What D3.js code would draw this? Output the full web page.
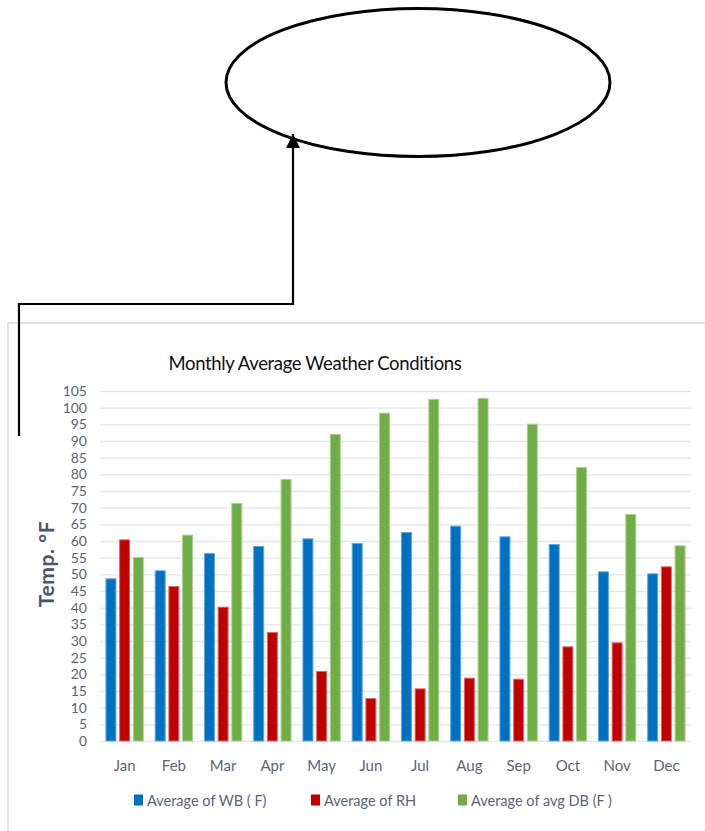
<!DOCTYPE html>
<html>
<head>
<meta charset="utf-8">
<script src="https://cdn.jsdelivr.net/npm/d3@7/dist/d3.min.js"></script>
<style>
  html, body { margin: 0; padding: 0; background: #ffffff; }
  svg { display: block; }
  text { font-family: Lato, "Open Sans", sans-serif; }
</style>
</head>
<body>
<svg id="chart" width="705" height="831"></svg>
<script>
// Monthly averages
const months = ["Jan", "Feb", "Mar", "Apr", "May", "Jun", "Jul", "Aug", "Sep", "Oct", "Nov", "Dec"];
const wbValues = [48.8, 51.2, 56.4, 58.5, 60.8, 59.4, 62.7, 64.6, 61.4, 59.1, 50.9, 50.3];
const rhValues = [60.5, 46.5, 40.3, 32.7, 21.0, 12.9, 15.8, 19.0, 18.7, 28.4, 29.6, 52.4];
const dbValues = [55.2, 61.9, 71.4, 78.6, 92.1, 98.5, 102.6, 102.9, 95.2, 82.2, 68.1, 58.7];
const seriesNames = ["Average of WB ( F)", "Average of RH", "Average of avg DB (F )"];
const seriesColors = ["#0070C0", "#C00000", "#70AD47"];
const seriesEdges = ["#5fa6dc", "#e06868", "#a9d18e"];
const yTicks = d3.range(0, 106, 5);

const seriesValues = [wbValues, rhValues, dbValues];
const rows = months.map((m, i) => ({ month: m, values: seriesValues.map(s => s[i]) }));

const svg = d3.select("#chart");

// ---- annotation: ellipse with elbow arrow ----
const defs = svg.append("defs");
defs.append("marker")
  .attr("id", "arrowHead")
  .attr("viewBox", "0 0 10 10")
  .attr("refX", 10).attr("refY", 5)
  .attr("markerUnits", "userSpaceOnUse")
  .attr("markerWidth", 15).attr("markerHeight", 14)
  .attr("orient", "auto")
  .append("path")
  .attr("d", "M0,0 L10,5 L0,10 Z")
  .attr("fill", "#000");

svg.append("ellipse")
  .attr("cx", 418).attr("cy", 82.5)
  .attr("rx", 192).attr("ry", 74)
  .attr("fill", "none")
  .attr("stroke", "#000")
  .attr("stroke-width", 3);

// ---- chart frame ----
svg.append("rect")
  .attr("x", 8).attr("y", 323)
  .attr("width", 760).attr("height", 560)
  .attr("fill", "#ffffff")
  .attr("stroke", "#dfe3e8")
  .attr("stroke-width", 2);

svg.append("path")
  .attr("d", "M19,436 L19,304 L293,304 L293,134")
  .attr("fill", "none")
  .attr("stroke", "#000")
  .attr("stroke-width", 2.2)
  .attr("marker-end", "url(#arrowHead)");

// ---- scales ----
const plot = { left: 100, right: 691, top: 391, bottom: 741 };

const x = d3.scaleBand()
  .domain(months)
  .range([plot.left, plot.right])
  .paddingInner(0.222)
  .paddingOuter(0.111);

const xSeries = d3.scaleBand()
  .domain(d3.range(3))
  .range([0, x.bandwidth()])
  .paddingInner(0.2);

const y = d3.scaleLinear()
  .domain([0, 105])
  .range([plot.bottom, plot.top]);

// ---- gridlines ----
const grid = svg.append("g")
  .attr("transform", `translate(${plot.left},0)`)
  .call(d3.axisLeft(y).tickValues(yTicks).tickSize(-(plot.right - plot.left)).tickFormat(""));
grid.select(".domain").remove();
grid.selectAll(".tick line")
  .attr("stroke", "#e3e6eb")
  .attr("stroke-width", 1.3);

// ---- y tick labels ----
const yAxis = svg.append("g")
  .attr("transform", `translate(87,0)`)
  .call(d3.axisLeft(y).tickValues(yTicks).tickSize(0).tickPadding(0));
yAxis.select(".domain").remove();
yAxis.selectAll(".tick text")
  .attr("fill", "#5b6577")
  .style("font-size", "14px")
  .style("font-family", "Lato, 'Open Sans', sans-serif");

// ---- bars ----
const groups = svg.append("g").selectAll("g")
  .data(rows)
  .join("g")
  .attr("transform", d => `translate(${x(d.month)},0)`);

groups.selectAll("rect")
  .data(d => d.values.map((v, k) => ({ v, k })))
  .join("rect")
  .attr("x", d => xSeries(d.k) + 0.5)
  .attr("width", xSeries.bandwidth() - 1)
  .attr("y", d => y(d.v) + 0.5)
  .attr("height", d => y(0) - y(d.v) - 0.5)
  .attr("fill", d => seriesColors[d.k])
  .attr("stroke", d => seriesEdges[d.k])
  .attr("stroke-width", 1);

// ---- x labels ----
const xAxis = svg.append("g")
  .attr("transform", `translate(0,${plot.bottom})`)
  .call(d3.axisBottom(x).tickSize(0).tickPadding(0));
xAxis.select(".domain").remove();
xAxis.selectAll(".tick text")
  .attr("fill", "#5b6577")
  .attr("dy", 0)
  .attr("y", 24)
  .attr("dominant-baseline", "central")
  .style("font-size", "15px")
  .style("font-family", "Lato, 'Open Sans', sans-serif");

// ---- title ----
svg.append("text")
  .attr("x", 315).attr("y", 370)
  .attr("text-anchor", "middle")
  .attr("fill", "#111")
  .style("font-size", "18.5px")
  .style("letter-spacing", "-0.35px")
  .text("Monthly Average Weather Conditions");

// ---- y axis title ----
svg.append("text")
  .attr("transform", "translate(45,564) rotate(-90)")
  .attr("text-anchor", "middle")
  .attr("dominant-baseline", "central")
  .attr("fill", "#4a5568")
  .style("font-size", "21px")
  .style("font-weight", "bold")
  .style("letter-spacing", "0.6px")
  .text("Temp. °F");

// ---- legend ----
const legendX = [134, 311, 458];
const legend = svg.append("g").selectAll("g")
  .data(seriesNames)
  .join("g")
  .attr("transform", (d, i) => `translate(${legendX[i]},800)`);
legend.append("rect")
  .attr("x", 0).attr("y", -5.5)
  .attr("width", 9).attr("height", 11)
  .attr("fill", (d, i) => seriesColors[i]);
legend.append("text")
  .attr("x", 13).attr("y", 0)
  .attr("dominant-baseline", "central")
  .attr("fill", "#5b6577")
  .style("font-size", "14.5px")
  .text(d => d);
</script>
</body>
</html>
